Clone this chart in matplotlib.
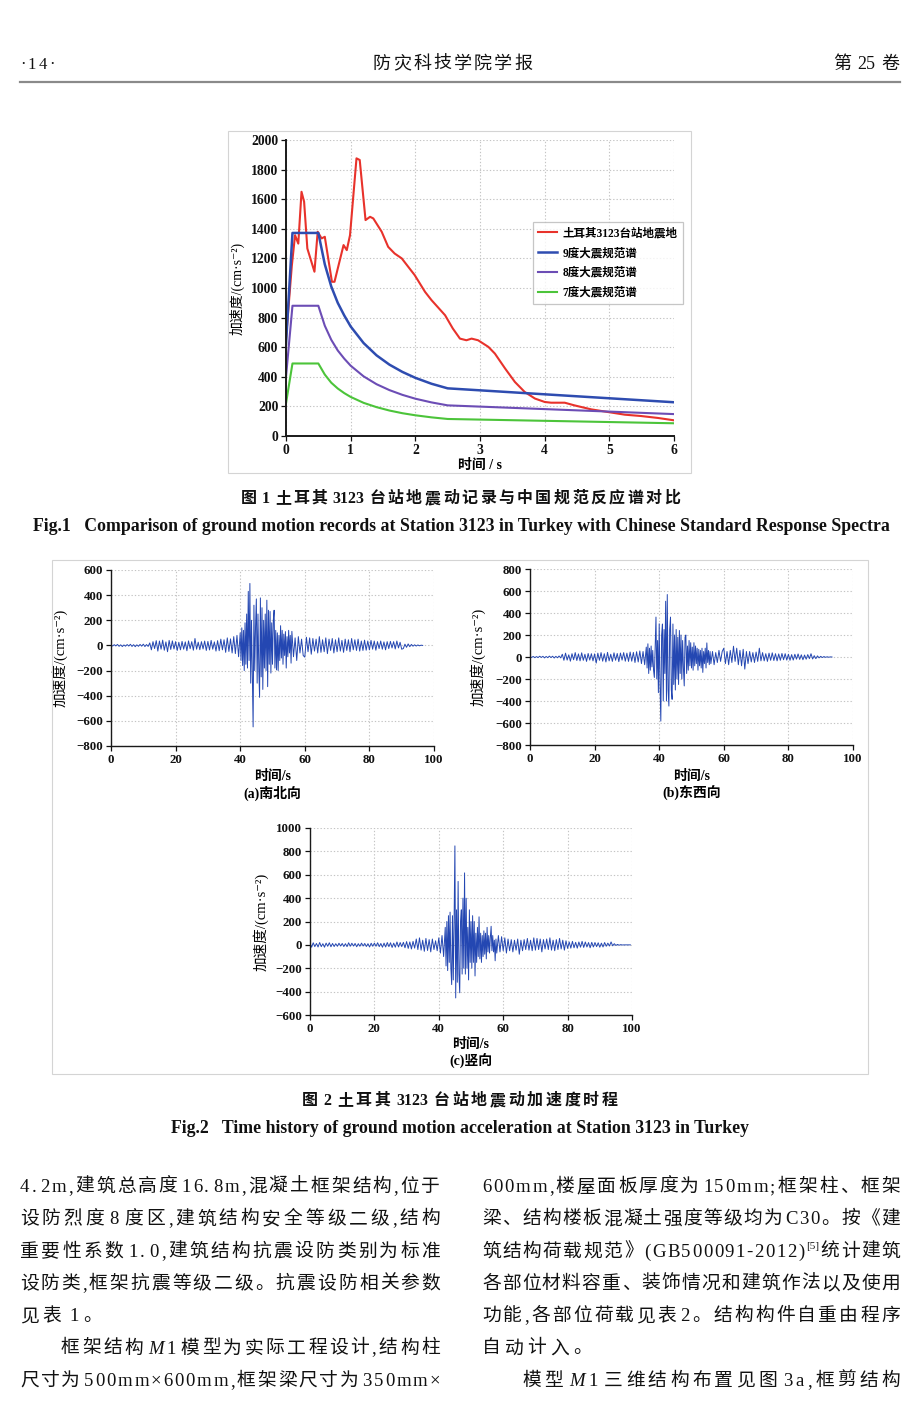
import numpy as np
import matplotlib
matplotlib.use('Agg')
import matplotlib.pyplot as plt
from matplotlib.lines import Line2D
from matplotlib.patches import Rectangle

W, H = 920, 1409
SERIF = ['Liberation Serif', 'Noto Sans CJK SC', 'DejaVu Sans']
plt.rcParams['font.family'] = SERIF
plt.rcParams['axes.unicode_minus'] = True

# ---------------- Figure 1 data (response spectra) ----------------
red_T = [0.0, 0.09, 0.14, 0.19, 0.24, 0.28, 0.33, 0.44, 0.49, 0.55, 0.60, 0.71, 0.75,
         0.89, 0.94, 0.99, 1.09, 1.14, 1.23, 1.30, 1.35, 1.48, 1.58, 1.68, 1.79, 1.99,
         2.15, 2.25, 2.46, 2.58, 2.69, 2.79, 2.87, 2.97, 3.13, 3.23, 3.39, 3.54, 3.69,
         3.85, 4.00, 4.10, 4.31, 4.46, 4.72, 4.98, 5.24, 5.49, 5.75, 6.00]
red_A = [658, 1150, 1357, 1300, 1650, 1583, 1267, 1110, 1380, 1335, 1346, 1042, 1042,
         1290, 1256, 1357, 1876, 1865, 1459, 1481, 1470, 1380, 1278, 1233, 1200, 1087,
         974, 918, 816, 726, 658, 647, 658, 647, 602, 557, 455, 365, 298,
         253, 230, 225, 225, 207, 180, 162, 144, 135, 122, 106]
spec_T = [0.0, 0.1, 0.5, 0.6, 0.7, 0.8, 0.9, 1.0, 1.2, 1.4, 1.6, 1.8, 2.0, 2.25, 2.5, 6.0]
spec9_A = [620, 1372, 1372, 1160, 1010, 900, 815, 740, 628, 545, 482, 433, 393, 353, 322, 228]
spec8_A = [400, 880, 880, 745, 650, 578, 523, 475, 403, 350, 310, 278, 252, 227, 207, 148]
spec7_A = [220, 490, 490, 415, 360, 321, 290, 264, 224, 195, 172, 154, 140, 126, 115, 86]
legend_labels = ['土耳其3123台站地震地', '9度大震规范谱', '8度大震规范谱', '7度大震规范谱']

# ---------------- Figure 2 data (acceleration time histories) ----------------
# (a) NS: 0-40 s @0.5 s, 40-56 s @0.25 s, 56-97 s @0.5 s
ns_pre = [3, -5, 6, -4, 8, -7, 5, -9, 4, -6, 7, -5, 9, -8, 6, -10, 5, -7, 8, -6, 10, -9, 7, -8,
          20, -35, 30, -25, 38, -45, 35, -30, 42, -38, 28, -50, 40, -32, 36, -28,
          30, -40, 25, -35, 32, -30, 28, -42, 36, -26, 30, -38, 55, -30, 26, -34, 30, -28, 35, -40,
          32, -36, 40, -30, 28, -45, 38, -42, 50, -35, 45, -55, 60, -48, 52, -60, 70, -65, 80, -90]
ns_strong = [100, -120, 140, -160, 120, -200, 180, -150,
             250, -180, 430, -120, 493, -300, 200, -250,
             -648, 320, -200, 150, 370, -300, 250, -180,
             -413, 378, -250, 300, -350, 200, -180, 250,
             -200, 360, -328, 280, -150, 270, -220, 180,
             -150, 200, 280, -180, 120, -195, 100, -200,
             80, -120, 157, -100, 120, -150, 90, -80,
             110, -180, 70, -90, 120, -60, 80, -141]
ns_post = [112, -90, 60, -120, 70, -60, 50, -80,
           -93, 65, -50, 60, -70, 55, -45, 50, -60, 70, -55, 45, -50, 60, -65, 50, -40, 55, -60, 45,
           -50, 60, -45, 40, -55, 50, -40, 45, -50, 55, -35, 45, -40, 50, -45, 35, -40, 42, -38, 35,
           -35, 40, -30, 35, -38, 30, -25, 35, -30, 28, -35, 30, -25, 32, -20, 30, -28, 35, -20, 25,
           -30, -25, 10, -15, 12, -10, 8, -6, 5, -5, 4, -3, 2, 0]
# (b) EW: 0-36 s @0.5 s, 36-56 s @0.25 s, 56-94 s @0.5 s
ew_pre = [2, -4, 5, -6, 4, -5, 7, -4, 6, -8, 5, -6, 8, -5, 7, -9, 6, -7, 9, -8,
          25, -30, 35, -28, 20, -38, 30, -25, 40, -32, 28, -35, 38, -30, 25, -40, 32, -28, 30, -35,
          28, -55, 35, -30, 40, -38, 30, -45, 42, -35, 25, -40, 38, -30, 32, -42, 36, -28, 40, -38,
          35, -40, 45, -38, 42, -50, 48, -45, 55, -60, 50, -70]
ew_strong = [90, -100, 120, -150, 80, -120, 100, -90,
             60, -120, -186, 80, 363, -200, 150, -324,
             302, -250, -583, 200, 300, -400, 250, -150,
             507, -400, 568, -300, -446, 250, 363, -300,
             -385, 300, -250, 200, -300, 250, -200, 180,
             -250, 241, -150, 200, -200, 150, -100, -263,
             180, 200, -150, 100, -120, 150, -80, 130,
             -100, 90, -120, 130, -80, 100, -60, 80,
             -120, 70, -80, 60, -100, 80, -140, 50,
             -60, 80, -100, 128, -50, 60, -70, 50]
ew_post = [-60, 50, -70, 40, -50, 60, -40, 50,
           80, -60, 50, -70, 60, -50, 98, -40,
           80, -70, 60, -80, 70, -110, 50, -60,
           50, -45, 40, -50, 45, -40, 80, -35,
           40, -35, 30, -40, 35, -30, 38, -32, 30, -35, 28, -30, 32, -25, 30, -28,
           25, -30, 22, -28, 25, -20, 28, -22, 20, -25, 18, -20, 22, -15, 30, -18,
           12, -15, 10, -8, 6, -5, 4, -3, 2, -2, 1, 0]
# (c) Vertical: 0-42 s @0.5 s, 42-58 s @0.25 s, 58-99.5 s @0.5 s
v_pre = [15, -20, 18, -15, 12, -18, 20, -15, 10, -20, 15, -12, 18, -16, 12, -14, 10, -12, 14, -10,
         12, -14, 10, -15, 18, -12, 14, -10, 12, -16, 10, -12, 15, -10, 12, -14, 10, -18, 14, -12,
         15, -12, 18, -15, 12, -20, 15, -18, 20, -15, 18, -22, 15, -20, 25, -18, 20, -15, 22, -25,
         28, -30, 25, -35, 30, -28, 50, -40, 60, -45, 40, -55, 55, -48, 45, -60, 50, -40, 35, -50,
         60, -70, 80, -100]
v_strong = [150, -180, 200, -220, 250, -150, 280, -200,
            -340, 250, -300, 200, 847, -454, 300, -320,
            543, -250, -410, 200, 300, -250, 400, -200,
            616, -250, 399, -200, 150, -300, 300, -150,
            200, -200, 250, -150, 200, -266, 100, -150,
            150, -100, 240, -120, 100, -150, 80, -100,
            120, -80, 100, -120, 150, -60, 80, -70,
            60, 159, -50, 80, -60, 40, -136, 50]
v_post = [-70, 80, -60, 70, -50, 60, -70, 50,
          -50, 45, -60, 40, -45, 50, -80, 40, -50, 45, -40, 55, -45, 40, -50, 60,
          -45, 55, -40, 50, -60, 45, -35, 50, -40, 60, -45, 40, -50, 45, -40, 55, -35, 40, -45, 35,
          -30, 25, -28, 30, -25, 22, -28, 25, -20, 30, -22, 25, -18, 20, -25, 22, -18, 20, -15, 18,
          -20, 15, -18, 20, -12, 15, -10, 25, -8, 10, -5, 4, -3, 2, -1, 0, 0, 0, 0, 0]


def build_series(segments):
    ts, vs = [], []
    for start, dt, vals in segments:
        ts.append(start + np.arange(len(vals)) * dt)
        vs.append(np.asarray(vals, dtype=float))
    return np.concatenate(ts), np.concatenate(vs)


ns_t, ns_a = build_series([(0, 0.5, ns_pre), (40, 0.25, ns_strong), (56, 0.5, ns_post)])
ew_t, ew_a = build_series([(0, 0.5, ew_pre), (36, 0.25, ew_strong), (56, 0.5, ew_post)])
v_t, v_a = build_series([(0, 0.5, v_pre), (42, 0.25, v_strong), (58, 0.5, v_post)])

# ---------------- figure ----------------
fig = plt.figure(figsize=(W / 100, H / 100), dpi=100)
fig.patch.set_facecolor('white')
renderer = fig.canvas.get_renderer()


def fx(x):
    return x / W


def fy(y):
    return 1 - y / H


def axes_px(l, t, r, b):
    return fig.add_axes([l / W, 1 - b / H, (r - l) / W, (b - t) / H])


def measure(s, fs, weight='normal', style='normal'):
    t = fig.text(0, 0, s, fontsize=fs, fontweight=weight, fontstyle=style, family=SERIF)
    w = t.get_window_extent(renderer).width
    t.remove()
    return w


def tokenize(s, group=False):
    """Split a line into (text, kind) tokens. '*X' = italic X, '^[..]' = superscript."""
    toks = []
    i = 0
    while i < len(s):
        ch = s[i]
        if ch == ' ':
            toks.append(('', 'space'))
        elif ch == '*':
            toks.append((s[i + 1], 'ital'))
            i += 1
        elif ch == '^':
            j = s.index(']', i)
            toks.append((s[i + 1:j + 1], 'sup'))
            i = j
        elif ord(ch) < 128 or ch in '×·':
            if group and toks and toks[-1][1] == 'lat':
                toks[-1] = (toks[-1][0] + ch, 'lat')
            else:
                toks.append((ch, 'lat'))
        else:
            toks.append((ch, 'cjk'))
        i += 1
    return toks


def draw_line(s, x0, x1, yb, fs_l, fs_c, weight='normal', justify=True, gap=3.5,
              color='#111111', group=False):
    toks = tokenize(s, group)
    info = []
    for txt, kind in toks:
        if kind == 'space':
            info.append((txt, kind, 0, 0.0, 'normal', 0.0))
            continue
        fs = fs_c if kind == 'cjk' else fs_l
        style = 'italic' if kind == 'ital' else 'normal'
        dy = 0.0
        if kind == 'sup':
            fs = fs_l * 0.6
            dy = fs_l * 1.389 * 0.42
        info.append((txt, kind, fs, measure(txt, fs, weight, style), style, dy))
    tot = sum(x[3] for x in info)
    if justify and len(info) > 1:
        gap = (x1 - x0 - tot) / (len(info) - 1)
    x = x0
    for txt, kind, fs, w, style, dy in info:
        if kind != 'space':
            fig.text(fx(x), fy(yb) + dy / H, txt, fontsize=fs, fontweight=weight,
                     fontstyle=style, family=SERIF, ha='left', va='baseline', color=color)
        x += w + gap


def fit_text(s, x0, x1, yb, fs0, weight='bold'):
    w = measure(s, fs0, weight)
    fs = fs0 * (x1 - x0) / w
    fig.text(fx(x0), fy(yb), s, fontsize=fs, fontweight=weight, family=SERIF,
             ha='left', va='baseline', color='#111111')


# ---------------- header ----------------
draw_line('·14·', 20, 55, 69, 12, 13)
draw_line('防灾科技学院学报', 373, 532, 69, 12, 13)
draw_line('第 25 卷', 833, 899, 69, 13, 13, group=True)
fig.add_artist(Line2D([fx(20), fx(900)], [fy(82), fy(82)], color='#8a8a8a', lw=1.6))

# ---------------- Figure 1 ----------------
fig.add_artist(Rectangle((fx(228), fy(473)), (691 - 228) / W, (473 - 131) / H, fill=False,
                         edgecolor='#d4d4d4', lw=0.8, transform=fig.transFigure))


def style_axes(ax, fs, spine_lw=1.0):
    for s in ['top', 'right']:
        ax.spines[s].set_visible(False)
    for s in ['left', 'bottom']:
        ax.spines[s].set_color('#1a1a1a')
        ax.spines[s].set_linewidth(spine_lw)
    ax.grid(True, color='#c4c4c4', linestyle=(0, (1.2, 1.8)), linewidth=0.8)
    ax.set_axisbelow(True)
    ax.tick_params(direction='out', length=3.5, width=0.9, labelsize=fs, pad=2, colors='#111111')
    for lab in ax.get_xticklabels() + ax.get_yticklabels():
        lab.set_fontweight('bold')
        lab.set_family(SERIF)


ax1 = axes_px(286, 140, 674, 436)
ax1.plot(red_T, red_A, color='#e8322b', lw=1.5, label=legend_labels[0])
ax1.plot(spec_T, spec9_A, color='#2e4cb0', lw=1.8, label=legend_labels[1])
ax1.plot(spec_T, spec8_A, color='#6c4db5', lw=1.5, label=legend_labels[2])
ax1.plot(spec_T, spec7_A, color='#4cc43a', lw=1.5, label=legend_labels[3])
ax1.set_xlim(0, 6)
ax1.set_ylim(0, 2000)
ax1.set_xticks(range(0, 7))
ax1.set_yticks(range(0, 2001, 200))
style_axes(ax1, 9.8, spine_lw=1.4)
ax1.set_ylabel('加速度/(cm·s⁻²)', fontsize=10, family=SERIF)
ax1.yaxis.set_label_coords(-0.108, 0.5)
fig.text(fx(480), fy(465), '时间 / s', fontsize=10, fontweight='bold', family=SERIF,
         ha='center', va='center')
leg = ax1.legend(loc='upper left', bbox_to_anchor=(fx(533), fy(222)), bbox_transform=fig.transFigure,
                 borderaxespad=0, frameon=True, fancybox=False, edgecolor='#b8b8b8',
                 prop={'family': SERIF, 'weight': 'bold', 'size': 8.3}, handlelength=1.6,
                 labelspacing=0.68, borderpad=0.45, handletextpad=0.5)
leg.get_frame().set_linewidth(0.9)

# captions for Fig 1
draw_line('图 1 土耳其 3123 台站地震动记录与中国规范反应谱对比', 241, 680, 503, 11.5, 11.5,
          weight='bold', group=True)
fit_text('Fig.1   Comparison of ground motion records at Station 3123 in Turkey with Chinese Standard Response Spectra',
         33, 887, 531, 11.5)

# ---------------- Figure 2 ----------------
fig.add_artist(Rectangle((fx(52), fy(1074)), (868 - 52) / W, (1074 - 560) / H, fill=False,
                         edgecolor='#d4d4d4', lw=0.8, transform=fig.transFigure))

LINE_C = '#2447b2'


def time_panel(rect, t, a, ylim, yticks, lab_x, xlab_y, cap_y, cap):
    ax = axes_px(*rect)
    ax.plot(t, a, color=LINE_C, lw=0.7)
    ax.set_xlim(0, 100)
    ax.set_ylim(*ylim)
    ax.set_xticks(range(0, 101, 20))
    ax.set_yticks(yticks)
    style_axes(ax, 9.3)
    ax.set_ylabel('加速度/(cm·s⁻²)', fontsize=10.5, family=SERIF)
    ax.yaxis.set_label_coords(lab_x, 0.5)
    cx = (rect[0] + rect[2]) / 2
    fig.text(fx(cx), fy(xlab_y), '时间/s', fontsize=10, fontweight='bold', family=SERIF,
             ha='center', va='center')
    fig.text(fx(cx), fy(cap_y), cap, fontsize=10, fontweight='bold', family=SERIF,
             ha='center', va='center')
    return ax


time_panel((111, 570, 434, 746), ns_t, ns_a, (-800, 600), range(-800, 601, 200),
           -0.133, 776, 793, '(a)南北向')
time_panel((530, 569, 853, 745), ew_t, ew_a, (-800, 800), range(-800, 801, 200),
           -0.139, 776, 793, '(b)东西向')
time_panel((310, 828, 632, 1015), v_t, v_a, (-600, 1000), range(-600, 1001, 200),
           -0.130, 1044, 1061, '(c)竖向')

draw_line('图 2 土耳其 3123 台站地震动加速度时程', 302, 618, 1105, 11.5, 11.5,
          weight='bold', group=True)
fit_text('Fig.2   Time history of ground motion acceleration at Station 3123 in Turkey',
         171, 749, 1133, 11.5)

# ---------------- body text ----------------
left_lines = [
    ('4. 2m,建筑总高度 16. 8m,混凝土框架结构,位于', 20, True),
    ('设防烈度 8 度区,建筑结构安全等级二级,结构', 20, True),
    ('重要性系数 1. 0,建筑结构抗震设防类别为标准', 20, True),
    ('设防类,框架抗震等级二级。抗震设防相关参数', 20, True),
    ('见表 1。', 20, False),
    ('框架结构 *M1 模型为实际工程设计,结构柱', 61, True),
    ('尺寸为 500mm×600mm,框架梁尺寸为 350mm×', 20, True),
]
right_lines = [
    ('600mm,楼屋面板厚度为 150mm;框架柱、框架', 482, True),
    ('梁、结构楼板混凝土强度等级均为 C30。按《建', 482, True),
    ('筑结构荷载规范》(GB500091-2012)^[5]统计建筑', 482, True),
    ('各部位材料容重、装饰情况和建筑作法以及使用', 482, True),
    ('功能,各部位荷载见表 2。结构构件自重由程序', 482, True),
    ('自动计入。', 482, False),
    ('模型 *M1 三维结构布置见图 3a,框剪结构', 522, True),
]
for i, (s, x0, j) in enumerate(left_lines):
    draw_line(s, x0, 440, 1192 + 32.3 * i, 13.5, 13.5, justify=j, gap=4.0)
for i, (s, x0, j) in enumerate(right_lines):
    draw_line(s, x0, 900, 1192 + 32.3 * i, 13.5, 13.5, justify=j, gap=4.0)

fig.savefig('out.png', dpi=100, facecolor='white')
